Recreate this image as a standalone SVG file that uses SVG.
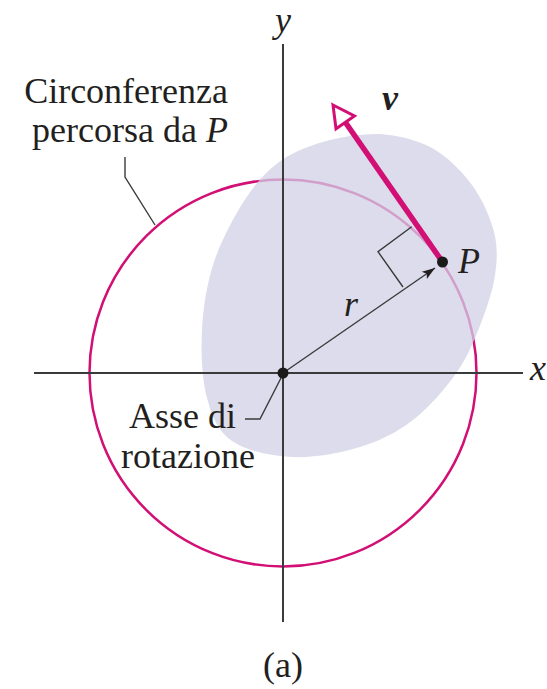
<svg xmlns="http://www.w3.org/2000/svg" width="547" height="689" viewBox="0 0 547 689">
<style>
.t{font-family:"Liberation Serif","DejaVu Serif",serif;font-size:36px;fill:#231f20}
.i{font-style:italic}
.ax{stroke:#3a3a3a;stroke-width:2;fill:none}
.thin{stroke:#3a3a3a;stroke-width:1.4;fill:none}
.mag{stroke:#d10f74;fill:none}
</style>
<defs>
<marker id="ah" markerUnits="userSpaceOnUse" markerWidth="16" markerHeight="12" viewBox="-13 -6 14 12" refX="0" refY="0" orient="auto">
<path d="M0,0 L-13,-4.5 L-10,0 L-13,4.5 Z" fill="#231f20"/>
</marker>
</defs>
<rect width="547" height="689" fill="#fff"/>
<g id="circle">
<circle cx="283" cy="373" r="193.5" class="mag" stroke-width="2.5"/>
</g>
<g id="body">
<path d="M380,134 C397,135.3 416.7,139.5 432,148 C447.3,156.5 461.7,171 472,185 C482.3,199 490.2,217 494,232 C497.8,247 497.2,259.8 495,275 C492.8,290.2 487.3,306.8 481,323 C474.7,339.2 468.3,355.8 457,372 C445.7,388.2 429.2,407.5 413,420 C396.8,432.5 380.2,440.8 360,447 C339.8,453.2 313.3,458 292,457 C270.7,456 246.2,450.8 232,441 C217.8,431.2 212,416.5 207,398 C202,379.5 200.8,352.7 202,330 C203.2,307.3 206.7,284 214,262 C221.3,240 234.7,215 246,198 C257.3,181 268,169.7 282,160 C296,150.3 313.7,144.3 330,140 C346.3,135.7 363,133.7 380,134 Z" fill="#d0d0e6" fill-opacity="0.75"/>
</g>
<g id="axes">
<line x1="283" y1="44" x2="283" y2="622" class="ax"/>
<line x1="34" y1="373" x2="523" y2="373" class="ax"/>
<text class="t i" x="275" y="32">y</text>
<text class="t i" x="530" y="380">x</text>
</g>
<g id="connectors">
<line x1="283" y1="373" x2="435" y2="268" class="thin" marker-end="url(#ah)"/>
<polyline points="411.7,226.7 378,251.7 403,287" class="thin"/>
<polyline points="125,157 125,177 155,225" class="thin"/>
<polyline points="245,419 260,419 281,378" class="thin"/>
<line x1="442.5" y1="262" x2="345.5" y2="122.5" class="mag" stroke-width="5.5"/>
<polygon points="333,105 354.5,116 336,128.8" fill="#fff" stroke="#d10f74" stroke-width="3" stroke-linejoin="miter"/>
</g>
<g id="center">
<circle cx="283" cy="373" r="5.5" fill="#1a1a1a"/>
</g>
<g id="P">
<circle cx="442.5" cy="262" r="5.5" fill="#1a1a1a"/>
<text class="t i" x="458" y="273">P</text>
</g>
<g id="v-label">
<text class="t i" x="382" y="110" font-weight="bold" font-size="32">v</text>
</g>
<g id="r-label">
<text class="t i" x="344" y="316">r</text>
</g>
<g id="circle-label">
<text class="t" x="228" y="103" text-anchor="end">Circonferenza</text>
<text class="t" x="228" y="142" text-anchor="end">percorsa da <tspan class="i">P</tspan></text>
</g>
<g id="axis-label">
<text class="t" x="129" y="428">Asse di</text>
<text class="t" x="121" y="468">rotazione</text>
</g>
<g id="caption">
<text class="t" x="283" y="677" text-anchor="middle">(a)</text>
</g>
</svg>
